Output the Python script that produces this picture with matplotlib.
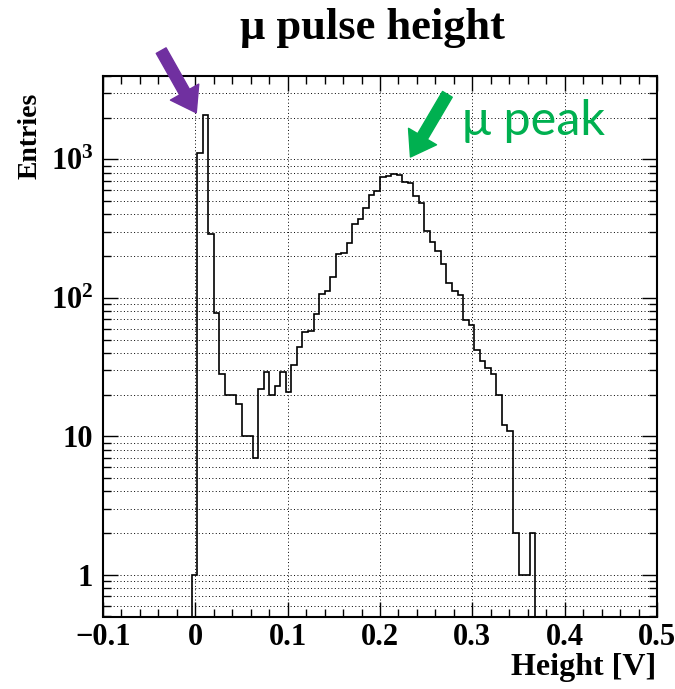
import numpy as np
import matplotlib
matplotlib.use("Agg")
import matplotlib.pyplot as plt
from matplotlib.ticker import LogLocator, FixedLocator, MultipleLocator, FuncFormatter

# histogram binning: 100 bins over [-0.1, 0.5] V
x_lo, x_hi, n_bins = -0.1, 0.5, 100
first_bin = 16
# entries of the non-empty bins, starting at bin 16
counts = [1, 1110, 2100, 290, 78, 28, 20, 20, 17, 10, 10, 7,
          22, 29, 20, 23, 29, 21, 33, 44, 57, 58, 77, 106, 112, 141,
          207, 212, 248, 340, 369, 443, 551, 595, 747, 760, 782, 773,
          692, 680, 545, 482, 304, 252, 218, 175, 128, 112, 104, 69,
          64, 42, 35, 31, 28, 20, 12, 11, 2, 1, 1, 2]

x_ticks = [-0.1, 0, 0.1, 0.2, 0.3, 0.4, 0.5]
x_ticklabels = ["\u22120.1", "0", "0.1", "0.2", "0.3", "0.4", "0.5"]
y_ticks = [1, 10, 100, 1000]
y_ticklabels = ["1", "10", r"$\mathbf{10^{2}}$", r"$\mathbf{10^{3}}$"]

plt.rcParams['font.family'] = ['Liberation Serif', 'DejaVu Serif']
plt.rcParams['font.weight'] = 'bold'
plt.rcParams['mathtext.fontset'] = 'custom'
plt.rcParams['mathtext.rm'] = 'Liberation Serif:bold'
plt.rcParams['mathtext.bf'] = 'Liberation Serif:bold'

edges = np.linspace(x_lo, x_hi, n_bins + 1)
vals = np.zeros(n_bins)
vals[first_bin:first_bin + len(counts)] = counts

fig = plt.figure(figsize=(6.75, 6.89), dpi=100)
ax = fig.add_axes([103/675, 1 - 616.5/689, 554/675, 540.5/689])
ax.set_yscale('log', nonpositive='clip')

nz = slice(first_bin, first_bin + len(counts))
ax.stairs(vals[nz], edges[first_bin:first_bin + len(counts) + 1],
          baseline=0, color='black', lw=1.2)

ax.set_xlim(x_lo, x_hi)
ax.set_ylim(0.5, 4000)

# ticks on all four sides, pointing in
ax.xaxis.set_major_locator(FixedLocator(x_ticks))
ax.xaxis.set_minor_locator(MultipleLocator(0.02))
ax.set_xticklabels(x_ticklabels)
ax.yaxis.set_major_locator(FixedLocator(y_ticks))
ax.yaxis.set_minor_locator(LogLocator(base=10, subs=np.arange(2, 10), numticks=20))
ax.yaxis.set_minor_formatter(FuncFormatter(lambda v, p: ""))
ax.set_yticklabels(y_ticklabels)
ax.tick_params(which='both', direction='in', top=True, right=True, width=1.0)
ax.tick_params(which='major', length=11)
ax.tick_params(which='minor', length=5.5)
ax.tick_params(axis='x', which='major', labelsize=22, pad=5)
ax.tick_params(axis='y', which='major', labelsize=22, pad=7)
for s in ax.spines.values():
    s.set_linewidth(1.5)

ax.grid(True, which='major', axis='x', color='black', lw=0.7, ls=(0, (1, 2.5)))
ax.grid(True, which='both', axis='y', color='black', lw=0.7, ls=(0, (1, 2.5)))
ax.set_axisbelow(True)

fig.text(372/675, 1 - 28/689, "\u03bc pulse height", ha='center', va='center',
         fontsize=32, fontweight='bold')
fig.text(30/675, 1 - 93/689, "Entries", rotation=90, ha='center', va='top',
         fontsize=20, fontweight='bold')
fig.text(656/675, 1 - 668/689, "Height [V]", ha='right', va='center',
         fontsize=23, fontweight='bold')

# arrows pointing at the pedestal and the muon peak
ax.annotate("", xy=(0.001, 2170), xytext=(-0.037, 6100),
            arrowprops=dict(arrowstyle='simple, head_length=0.95, head_width=1.3, tail_width=0.45',
                            color='#7030a0', mutation_scale=18, shrinkA=0, shrinkB=0),
            annotation_clip=False)
ax.annotate("", xy=(0.233, 1040), xytext=(0.273, 2950),
            arrowprops=dict(arrowstyle='simple, head_length=0.95, head_width=1.3, tail_width=0.45',
                            color='#00b050', mutation_scale=18, shrinkA=0, shrinkB=0),
            annotation_clip=False)
ax.text(0.289, 1900, "\u03bc peak", color='#00b050', fontsize=35,
        family=['Lato', 'DejaVu Sans'], fontweight='normal', va='center', ha='left')

fig.savefig("out.png", dpi=100)
